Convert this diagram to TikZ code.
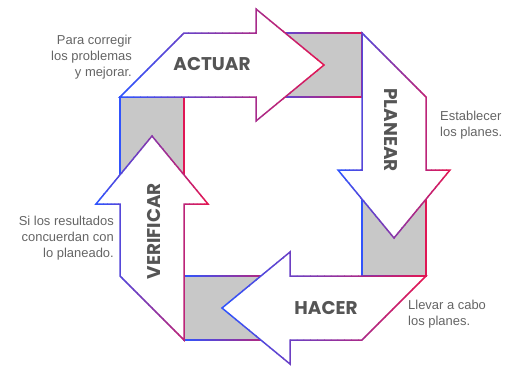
\documentclass[tikz,border=0pt]{standalone}
\usepackage{fontspec}
\setmainfont{Liberation Sans}
\newfontfamily\titlefont{Poppins}
\definecolor{cblue}{RGB}{45,85,255}
\definecolor{cred}{RGB}{228,22,82}
\definecolor{grayfill}{RGB}{200,200,200}
\definecolor{textdark}{RGB}{85,85,85}
\definecolor{textgray}{RGB}{100,100,100}
\newcommand\gradstroke[3]{%
  \foreach \k in {0,...,29}{%
    \pgfmathsetmacro\xa{\k==0 ? #1-8 : #1+(#2-#1)*\k/30}%
    \pgfmathsetmacro\xb{\k==29 ? #2+8 : #1+(#2-#1)*(\k+1)/30+0.5}%
    \pgfmathtruncatemacro\pc{round(100*(\k+0.5)/30)}%
    \colorlet{gc}{cred!\pc!cblue}%
    \begin{scope}
      \clip (\xa,-50) rectangle (\xb,450);
      \draw[edge, draw=gc] #3;
    \end{scope}%
  }}
\begin{document}
\begin{tikzpicture}[x=1bp,y=-1bp,
  edge/.style={line width=1.5bp, line join=miter},
  grayband/.style={fill=grayfill},
  arrowbody/.style={fill=white},
  title/.style={font=\titlefont\bfseries\fontsize{18.5}{20}\selectfont, text=textdark, inner sep=0pt},
  note/.style={font=\fontsize{13}{16.2}\selectfont, text=textgray, inner sep=0pt}]
\useasboundingbox (0,0) rectangle (515,367);
% gray corner bands
\fill[grayband] (256,33) rectangle (362,97);
\fill[grayband] (362,170) rectangle (426,276);
\fill[grayband] (184,276) rectangle (290,340);
\fill[grayband] (120,97) rectangle (184,204);
\gradstroke{256}{362}{(256,33) rectangle (362,97)}
\gradstroke{362}{426}{(362,170) rectangle (426,276)}
\gradstroke{184}{290}{(184,276) rectangle (290,340)}
\gradstroke{120}{184}{(120,97) rectangle (184,204)}
% arrows
\fill[arrowbody] (120,97) -- (184,33) -- (256,33) -- (256,9) -- (324,65) -- (256,121) -- (256,97) -- cycle;
\gradstroke{120}{324}{(120,97) -- (184,33) -- (256,33) -- (256,9) -- (324,65) -- (256,121) -- (256,97) -- cycle}
\fill[arrowbody] (362,33) -- (426,97) -- (426,170) -- (450,170) -- (394,238) -- (338,170) -- (362,170) -- cycle;
\gradstroke{338}{450}{(362,33) -- (426,97) -- (426,170) -- (450,170) -- (394,238) -- (338,170) -- (362,170) -- cycle}
\fill[arrowbody] (426,276) -- (362,340) -- (290,340) -- (290,364) -- (222,308) -- (290,252) -- (290,276) -- cycle;
\gradstroke{222}{426}{(426,276) -- (362,340) -- (290,340) -- (290,364) -- (222,308) -- (290,252) -- (290,276) -- cycle}
\fill[arrowbody] (184,340) -- (120,276) -- (120,204) -- (96,204) -- (152,136) -- (208,204) -- (184,204) -- cycle;
\gradstroke{96}{208}{(184,340) -- (120,276) -- (120,204) -- (96,204) -- (152,136) -- (208,204) -- (184,204) -- cycle}
% titles
\node[title] (actuar) at (212,64) {ACTUAR};
\node[title, rotate=-90] (planear) at (390.5,130) {PLANEAR};
\node[title] (hacer) at (326,308) {HACER};
\node[title, rotate=90] (verificar) at (154,231) {VERIFICAR};
% notes
\node[note, align=right, anchor=east] (n1) at (132,57) {Para corregir\\los problemas\\y mejorar.};
\node[note, align=right, anchor=east] (n2) at (114,238) {Si los resultados\\concuerdan con\\lo planeado.};
\node[note, align=left, anchor=west] (n3) at (440,125.5) {Establecer\\los planes.};
\node[note, align=left, anchor=west] (n4) at (408,314) {Llevar a cabo\\los planes.};
\end{tikzpicture}
\end{document}
